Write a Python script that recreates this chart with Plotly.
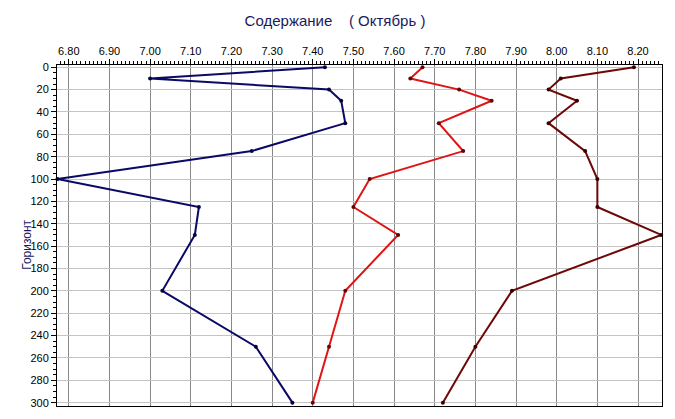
import plotly.graph_objects as go

# Глубина (горизонт) и значения по трём сериям
depth = [0, 10, 20, 30, 50, 75, 100, 125, 150, 200, 250, 300]
series_navy = [7.43, 7.00, 7.44, 7.47, 7.48, 7.25, 6.772, 7.12, 7.11, 7.03, 7.26, 7.35]
series_red = [7.67, 7.64, 7.76, 7.84, 7.71, 7.77, 7.54, 7.50, 7.61, 7.48, 7.44, 7.40]
series_maroon = [8.19, 8.01, 7.98, 8.05, 7.98, 8.07, 8.10, 8.10, 8.257, 7.89, 7.80, 7.72]

x_ticks = [6.80, 6.90, 7.00, 7.10, 7.20, 7.30, 7.40, 7.50, 7.60, 7.70, 7.80, 7.90, 8.00, 8.10, 8.20]
y_ticks = list(range(0, 301, 20))

# страница добавляет отступ body 8px, поэтому фигура чуть меньше окна
W, H = 667, 411

fig = go.Figure()

for vals, line_col, mark_col in [
    (series_navy, "#0a0a66", "#050540"),
    (series_red, "#e01414", "#5a0a0a"),
    (series_maroon, "#6e0808", "#3a0000"),
]:
    fig.add_trace(go.Scatter(
        x=vals, y=depth,
        mode="lines+markers",
        line=dict(color=line_col, width=2),
        marker=dict(color=mark_col, size=4),
        showlegend=False,
        cliponaxis=False,
    ))

# подпись оси Y отдельной аннотацией
fig.add_annotation(
    text="Горизонт",
    xref="paper", yref="paper",
    x=-0.05, y=0.472,
    xanchor="center", yanchor="middle",
    textangle=-90, showarrow=False,
    font=dict(size=12, color="#1a1a60"),
)

fig.update_layout(
    width=W, height=H,
    margin=dict(l=49, r=13, t=57, b=13),
    paper_bgcolor="white",
    plot_bgcolor="white",
    font=dict(family="Liberation Sans, Arial, sans-serif", size=11, color="black"),
    title=dict(
        text="Содержание\u00a0\u00a0\u00a0\u00a0( Октябрь )",
        x=327 / W, xanchor="center",
        y=1 - 13 / H, yanchor="middle",
        font=dict(size=15, color="#1a1a60"),
    ),
    xaxis=dict(
        side="top",
        automargin=False,
        range=[6.771, 8.259],
        tickvals=x_ticks,
        tickformat=".2f",
        ticks="outside", ticklen=5, tickcolor="black",
        showline=True, linecolor="black", linewidth=1, mirror=True,
        showgrid=True, gridcolor="#888888", gridwidth=1,
        zeroline=False,
        minor=dict(dtick=0.01, tick0=6.80, ticks="outside", ticklen=3, tickcolor="black", showgrid=False),
    ),
    yaxis=dict(
        automargin=False,
        range=[303, -2],
        tickvals=y_ticks,
        ticks="outside", ticklen=5, tickcolor="black",
        showline=True, linecolor="black", linewidth=1, mirror=True,
        showgrid=True, gridcolor="#c4c4c4", gridwidth=1,
        zeroline=False,
        minor=dict(dtick=5, tick0=0, ticks="outside", ticklen=3, tickcolor="black", showgrid=False),
    ),
)

fig.write_html("out.html")
